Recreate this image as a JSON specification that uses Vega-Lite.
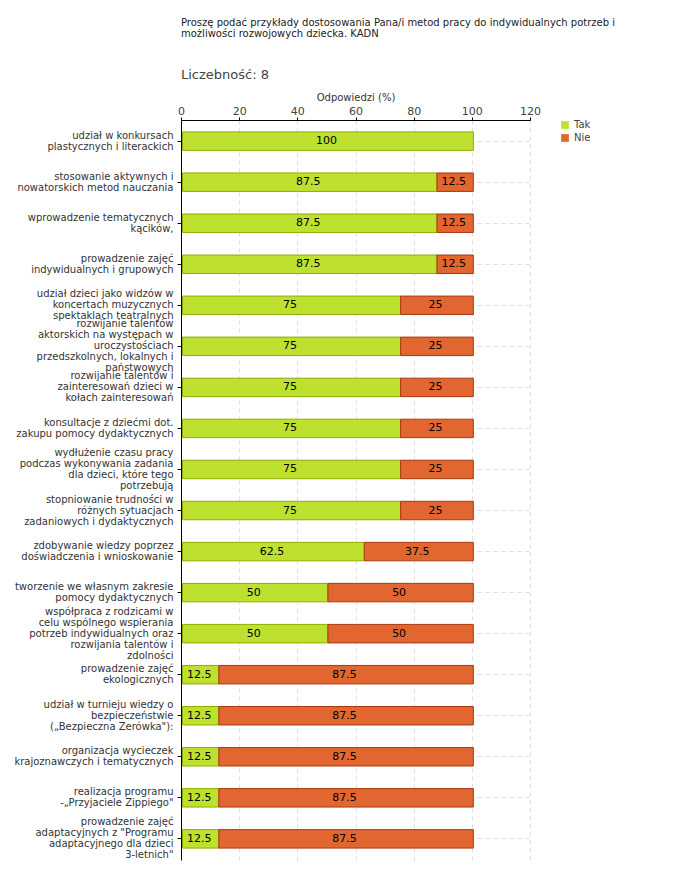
{
  "$schema": "https://vega.github.io/schema/vega-lite/v6.json",
  "autosize": {"type": "none"},
  "width": 349,
  "height": 740,
  "padding": {"left": 181, "top": 120, "right": 150, "bottom": 20},
  "background": "white",
  "config": {"font": "DejaVu Sans", "view": {"stroke": null}},
  "title": {
    "text": ["Proszę podać przykłady dostosowania Pana/i metod pracy do indywidualnych potrzeb i", "możliwości rozwojowych dziecka.  KADN"],
    "subtitle": "Liczebność: 8",
    "anchor": "start",
    "frame": "group",
    "fontSize": 10,
    "fontWeight": "normal",
    "color": "#222",
    "lineHeight": 11,
    "subtitleFontSize": 13,
    "subtitleColor": "#444",
    "subtitlePadding": 30,
    "offset": 10
  },
  "data": {
    "values": [
      {"kategoria": "udział w konkursach\nplastycznych i literackich", "seria": "Tak", "procent": 100},
      {"kategoria": "stosowanie  aktywnych i\nnowatorskich metod nauczania", "seria": "Tak", "procent": 87.5},
      {"kategoria": "stosowanie  aktywnych i\nnowatorskich metod nauczania", "seria": "Nie", "procent": 12.5},
      {"kategoria": "wprowadzenie tematycznych\nkącików,", "seria": "Tak", "procent": 87.5},
      {"kategoria": "wprowadzenie tematycznych\nkącików,", "seria": "Nie", "procent": 12.5},
      {"kategoria": "prowadzenie  zajęć\nindywidualnych  i grupowych", "seria": "Tak", "procent": 87.5},
      {"kategoria": "prowadzenie  zajęć\nindywidualnych  i grupowych", "seria": "Nie", "procent": 12.5},
      {"kategoria": "udział dzieci  jako widzów w\nkoncertach muzycznych\nspektaklach teatralnych", "seria": "Tak", "procent": 75},
      {"kategoria": "udział dzieci  jako widzów w\nkoncertach muzycznych\nspektaklach teatralnych", "seria": "Nie", "procent": 25},
      {"kategoria": "rozwijanie talentów\naktorskich na występach w\nuroczystościach\nprzedszkolnych, lokalnych i\npaństwowych", "seria": "Tak", "procent": 75},
      {"kategoria": "rozwijanie talentów\naktorskich na występach w\nuroczystościach\nprzedszkolnych, lokalnych i\npaństwowych", "seria": "Nie", "procent": 25},
      {"kategoria": "rozwijanie talentów i\nzainteresowań dzieci  w\nkołach zainteresowań", "seria": "Tak", "procent": 75},
      {"kategoria": "rozwijanie talentów i\nzainteresowań dzieci  w\nkołach zainteresowań", "seria": "Nie", "procent": 25},
      {"kategoria": "konsultacje z dziećmi dot.\nzakupu pomocy dydaktycznych", "seria": "Tak", "procent": 75},
      {"kategoria": "konsultacje z dziećmi dot.\nzakupu pomocy dydaktycznych", "seria": "Nie", "procent": 25},
      {"kategoria": "wydłużenie czasu pracy\npodczas wykonywania zadania\ndla dzieci, które tego\npotrzebują", "seria": "Tak", "procent": 75},
      {"kategoria": "wydłużenie czasu pracy\npodczas wykonywania zadania\ndla dzieci, które tego\npotrzebują", "seria": "Nie", "procent": 25},
      {"kategoria": "stopniowanie trudności w\nróżnych sytuacjach\nzadaniowych i dydaktycznych", "seria": "Tak", "procent": 75},
      {"kategoria": "stopniowanie trudności w\nróżnych sytuacjach\nzadaniowych i dydaktycznych", "seria": "Nie", "procent": 25},
      {"kategoria": "zdobywanie wiedzy poprzez\ndoświadczenia i wnioskowanie", "seria": "Tak", "procent": 62.5},
      {"kategoria": "zdobywanie wiedzy poprzez\ndoświadczenia i wnioskowanie", "seria": "Nie", "procent": 37.5},
      {"kategoria": "tworzenie we własnym zakresie\npomocy dydaktycznych", "seria": "Tak", "procent": 50},
      {"kategoria": "tworzenie we własnym zakresie\npomocy dydaktycznych", "seria": "Nie", "procent": 50},
      {"kategoria": "współpraca z rodzicami w\ncelu wspólnego wspierania\npotrzeb indywidualnych oraz\nrozwijania talentów i\nzdolności", "seria": "Tak", "procent": 50},
      {"kategoria": "współpraca z rodzicami w\ncelu wspólnego wspierania\npotrzeb indywidualnych oraz\nrozwijania talentów i\nzdolności", "seria": "Nie", "procent": 50},
      {"kategoria": "prowadzenie  zajęć\nekologicznych", "seria": "Tak", "procent": 12.5},
      {"kategoria": "prowadzenie  zajęć\nekologicznych", "seria": "Nie", "procent": 87.5},
      {"kategoria": "udział w turnieju wiedzy o\nbezpieczeństwie\n(„Bezpieczna Zerówka\"):", "seria": "Tak", "procent": 12.5},
      {"kategoria": "udział w turnieju wiedzy o\nbezpieczeństwie\n(„Bezpieczna Zerówka\"):", "seria": "Nie", "procent": 87.5},
      {"kategoria": "organizacja wycieczek\nkrajoznawczych i tematycznych", "seria": "Tak", "procent": 12.5},
      {"kategoria": "organizacja wycieczek\nkrajoznawczych i tematycznych", "seria": "Nie", "procent": 87.5},
      {"kategoria": "realizacja programu\n-„Przyjaciele Zippiego\"", "seria": "Tak", "procent": 12.5},
      {"kategoria": "realizacja programu\n-„Przyjaciele Zippiego\"", "seria": "Nie", "procent": 87.5},
      {"kategoria": "prowadzenie zajęć\nadaptacyjnych  z \"Programu\nadaptacyjnego dla dzieci\n3-letnich\"", "seria": "Tak", "procent": 12.5},
      {"kategoria": "prowadzenie zajęć\nadaptacyjnych  z \"Programu\nadaptacyjnego dla dzieci\n3-letnich\"", "seria": "Nie", "procent": 87.5}
    ]
  },
  "encoding": {
    "y": {
      "field": "kategoria",
      "type": "nominal",
      "sort": null,
      "scale": {"paddingInner": 0.55, "paddingOuter": 0.29},
      "axis": {
        "title": null,
        "labelExpr": "split(datum.label, '\\n')",
        "labelFontSize": 10,
        "labelColor": "#333",
        "labelLimit": 200,
        "labelLineHeight": 11,
        "labelPadding": 4,
        "labelOffset": {
          "condition": [
            {"test": "length(split(datum.value, '\\n')) == 5", "value": -22},
            {"test": "length(split(datum.value, '\\n')) == 4", "value": -16.5},
            {"test": "length(split(datum.value, '\\n')) == 3", "value": -11},
            {"test": "length(split(datum.value, '\\n')) == 2", "value": -5.5}
          ],
          "value": 0
        },
        "tickColor": "black",
        "tickSize": 4,
        "domainColor": "black",
        "grid": true,
        "gridDash": [4, 4],
        "gridColor": "#dddddd",
        "bandPosition": 0.5
      }
    },
    "order": {"field": "seria", "sort": "descending"}
  },
  "layer": [
    {
      "mark": {"type": "bar", "xOffset": 1.5, "x2Offset": -1.5, "strokeWidth": 1},
      "encoding": {
        "x": {
          "field": "procent",
          "type": "quantitative",
          "stack": "zero",
          "scale": {"domain": [0, 120], "nice": false},
          "axis": {
            "orient": "top",
            "title": "Odpowiedzi (%)",
            "titleFontSize": 10,
            "titleFontWeight": "normal",
            "titleColor": "#333",
            "titlePadding": 3,
            "values": [0, 10, 20, 30, 40, 50, 60, 70, 80, 90, 100, 110, 120],
            "labelExpr": "datum.value % 20 === 0 ? datum.label : ''",
            "labelFlush": false,
            "labelFontSize": 11,
            "labelColor": "#444",
            "labelPadding": 1,
            "tickColor": {"condition": {"test": "datum.value % 20 !== 0", "value": "#e00000"}, "value": "black"},
            "tickSize": 3,
            "domainColor": "black",
            "grid": true,
            "gridDash": [4, 4],
            "gridColor": {"condition": {"test": "datum.value % 20 !== 0 || datum.value === 0", "value": "transparent"}, "value": "#dddddd"}
          }
        },
        "color": {
          "field": "seria",
          "type": "nominal",
          "scale": {"domain": ["Tak", "Nie"], "range": ["#bee130", "#e2662f"]},
          "legend": {
            "title": null,
            "orient": "right",
            "offset": 30,
            "symbolType": "square",
            "symbolSize": 60,
            "symbolStrokeWidth": 0,
            "labelFontSize": 10,
            "labelColor": "#444",
            "rowPadding": 3
          }
        },
        "stroke": {
          "field": "seria",
          "type": "nominal",
          "scale": {"domain": ["Tak", "Nie"], "range": ["#8fac00", "#a83a10"]},
          "legend": null
        }
      }
    },
    {
      "mark": {"type": "text", "fontSize": 11, "color": "black", "baseline": "middle", "align": "center"},
      "encoding": {
        "x": {"field": "procent", "type": "quantitative", "stack": "zero", "bandPosition": 0.5},
        "text": {"field": "procent", "type": "quantitative"}
      }
    }
  ]
}
